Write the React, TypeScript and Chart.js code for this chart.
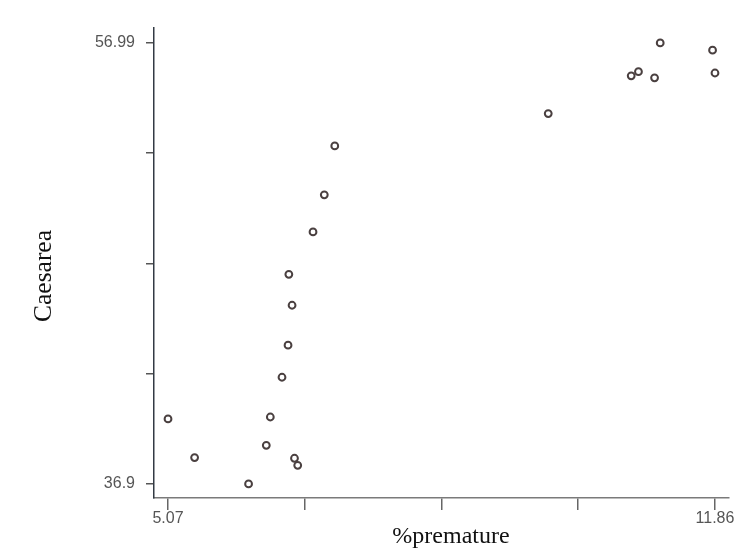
import { useEffect, useRef } from "react";
import { Chart, registerables } from "chart.js";

Chart.register(...registerables);

const premature = [5.07, 5.40, 6.07, 6.29, 6.34, 6.64, 6.68, 6.485, 6.56, 6.61, 6.57, 6.87, 7.01, 7.14, 9.79, 10.82, 10.91, 11.18, 11.11, 11.83, 11.86];
const caesarea = [39.86, 38.10, 36.90, 38.66, 39.95, 38.07, 37.75, 41.76, 43.22, 45.04, 46.45, 48.38, 50.07, 52.30, 53.77, 55.49, 55.68, 56.99, 55.40, 56.66, 55.62];

const xTickValues = [5.07, 6.7675, 8.465, 10.1625, 11.86];
const xTickLabels = ["5.07", "", "", "", "11.86"];
const yTickValues = [36.9, 41.9225, 46.945, 51.9675, 56.99];
const yTickLabels = ["36.9", "", "", "", "56.99"];

const xTitle = "%premature";
const yTitle = "Caesarea";

const tickFont = { family: "'Liberation Sans', Arial, sans-serif", size: 16 };

const titlePlugin = {
  id: "axisTitles",
  afterDraw(chart: any) {
    const ctx = chart.ctx;
    ctx.save();
    ctx.fillStyle = "#111";
    ctx.textAlign = "center";
    ctx.textBaseline = "alphabetic";
    ctx.font = "24px 'Liberation Serif', 'Times New Roman', serif";
    ctx.fillText(xTitle, 451, 543);
    ctx.font = "25.5px 'Liberation Serif', 'Times New Roman', serif";
    ctx.translate(51, 276);
    ctx.rotate(-Math.PI / 2);
    ctx.fillText(yTitle, 0, 0);
    ctx.restore();
  },
};

export default function App() {
  const ref = useRef<HTMLCanvasElement>(null);
  useEffect(() => {
    document.body.style.margin = "0";
    const data = premature.map((x, i) => ({ x, y: caesarea[i] }));
    const chart = new Chart(ref.current!, {
      type: "scatter",
      data: {
        datasets: [
          {
            data,
            pointRadius: 3.4,
            pointBorderWidth: 2,
            pointBorderColor: "#4a4040",
            pointBackgroundColor: "rgba(255,255,255,0)",
          },
        ],
      },
      plugins: [titlePlugin],
      options: {
        animation: false,
        responsive: false,
        maintainAspectRatio: false,
        layout: { padding: { left: 0, top: 28, right: 12, bottom: 0 } },
        plugins: { legend: { display: false }, tooltip: { enabled: false } },
        scales: {
          x: {
            type: "linear",
            min: 4.896,
            max: 12.034,
            afterFit(scale: any) {
              scale.height = 54;
            },
            afterBuildTicks(scale: any) {
              scale.ticks = xTickValues.map((v) => ({ value: v }));
            },
            border: { display: true, color: "#7a7a7a", width: 1.5 },
            grid: { display: true, drawOnChartArea: false, drawTicks: true, tickLength: 12, tickColor: "#666", lineWidth: 1.5 },
            ticks: {
              autoSkip: false,
              maxRotation: 0,
              padding: -1,
              color: "#555",
              font: tickFont,
              callback: (_v: any, i: number) => xTickLabels[i],
            },
          },
          y: {
            type: "linear",
            min: 36.26,
            max: 57.67,
            afterFit(scale: any) {
              scale.width = 154;
            },
            afterBuildTicks(scale: any) {
              scale.ticks = yTickValues.map((v) => ({ value: v }));
            },
            border: { display: true, color: "#333a44", width: 1.5 },
            grid: { display: true, drawOnChartArea: false, drawTicks: true, tickLength: 8, tickColor: "#555", lineWidth: 1.5 },
            ticks: {
              autoSkip: false,
              padding: 11,
              color: "#555",
              font: tickFont,
              callback: (_v: any, i: number) => yTickLabels[i],
            },
          },
        },
      },
    });
    return () => chart.destroy();
  }, []);
  return (
    <div style={{ position: "fixed", left: 0, top: 0, width: 741, height: 552, background: "#fff" }}>
      <canvas ref={ref} width={741} height={552} style={{ width: 741, height: 552 }} />
    </div>
  );
}
